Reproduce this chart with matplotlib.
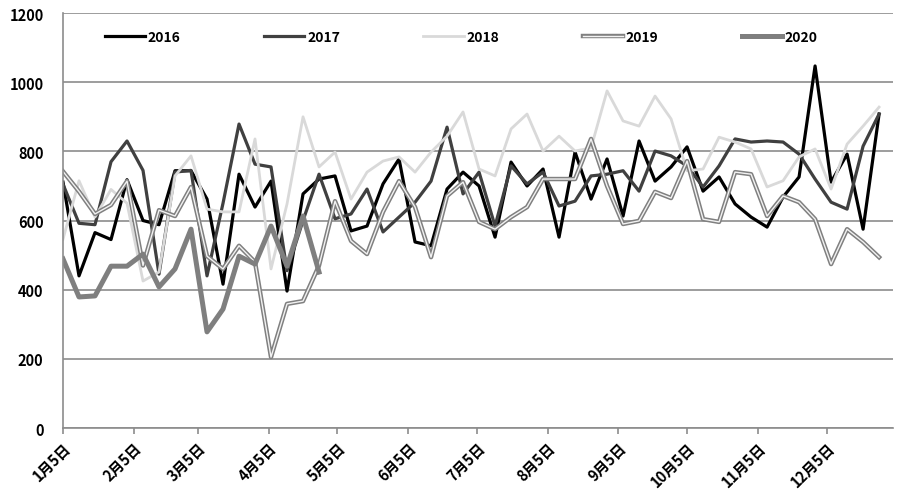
import numpy as np
import pandas as pd
import matplotlib
matplotlib.use('Agg')
import matplotlib.pyplot as plt
import matplotlib.patheffects as pe

plt.rcParams['font.family'] = ['Noto Sans CJK SC', 'DejaVu Sans']

# weekly data, first week 1月5日
weeks = pd.date_range('2019-01-05', periods=52, freq='7D')

y2016 = [711, 440, 565, 545, 718, 600, 588, 744, 744, 662, 416, 734, 639, 714, 396, 677,
         720, 729, 570, 584, 706, 778, 538, 527, 691, 740, 700, 552, 769, 700, 749, 552,
         798, 662, 778, 613, 830, 714, 755, 813, 685, 726, 648, 610, 581, 668, 726, 1047,
         711, 792, 575, 908]
y2017 = [705, 592, 588, 770, 830, 745, 445, 740, 745, 440, 650, 879, 763, 755, 455, 600,
         734, 605, 619, 691, 567, 610, 653, 714, 870, 677, 740, 584, 758, 706, 740, 642,
         656, 729, 734, 744, 685, 801, 787, 758, 697, 758, 836, 827, 830, 827, 792, 720,
         653, 633, 815, 908]
y2018 = [546, 715, 610, 690, 650, 425, 451, 729, 787, 633, 625, 625, 836, 460, 648, 900,
         755, 798, 662, 740, 772, 784, 740, 798, 844, 914, 749, 729, 865, 908, 801, 844,
         801, 810, 975, 888, 873, 960, 894, 744, 749, 841, 827, 807, 697, 715, 784, 807,
         691, 821, 873, 928]
y2019 = [742, 684, 619, 645, 714, 470, 630, 613, 697, 497, 460, 527, 480, 205, 359, 367,
         470, 656, 541, 503, 625, 714, 639, 494, 671, 711, 596, 575, 610, 639, 720, 720,
         720, 836, 700, 590, 599, 683, 665, 772, 604, 596, 740, 734, 613, 671, 653, 604,
         474, 575, 538, 494]
y2020 = [489, 379, 382, 468, 468, 503, 408, 460, 575, 278, 344, 497, 474, 584, 468, 613, 451]

tick_dates = pd.to_datetime([f'2019-{m:02d}-05' for m in range(1, 13)])
tick_labels = [f'{m}月5日' for m in range(1, 13)]

fig = plt.figure(figsize=(9, 5.02), dpi=100)
ax = fig.add_axes([0.07, 0.1454, 0.922, 0.8266])

ax.plot(weeks, y2016, color='#000000', lw=2.3, label='2016')
ax.plot(weeks, y2017, color='#404040', lw=2.3, label='2017')
ax.plot(weeks, y2018, color='#d9d9d9', lw=2.0, label='2018')
ax.plot(weeks, y2019, color='#f2f2f2', lw=1.0, label='2019',
        path_effects=[pe.Stroke(linewidth=3.2, foreground='#808080'), pe.Normal()])
ax.plot(weeks[:len(y2020)], y2020, color='#7f7f7f', lw=3.6, label='2020')

ax.set_ylim(0, 1200)
ax.set_yticks(range(0, 1201, 200))
ax.set_xlim(pd.Timestamp('2019-01-05'), pd.Timestamp('2020-01-03'))
ax.set_xticks(tick_dates)
ax.set_xticklabels(tick_labels, rotation=45, ha='right', rotation_mode='anchor',
                   fontsize=10.5, fontweight='bold')
for lab in ax.get_yticklabels():
    lab.set_fontweight('bold')
    lab.set_fontsize(10.5)

ax.grid(axis='y', color='#8c8c8c', lw=1.2)
ax.set_axisbelow(True)
for s in ['top', 'right']:
    ax.spines[s].set_visible(False)
for s in ['left', 'bottom']:
    ax.spines[s].set_color('#8c8c8c')
    ax.spines[s].set_linewidth(1.2)
ax.tick_params(axis='y', length=0, pad=14)
ax.tick_params(axis='x', length=4, color='#8c8c8c', width=1.2, pad=4)

leg = ax.legend(loc='center', bbox_to_anchor=(0.48, 0.942), ncol=5, frameon=False,
                handlelength=2.9, handletextpad=0.2, columnspacing=6.0,
                prop={'weight': 'bold', 'size': 10})

fig.savefig('out.png', dpi=100)
